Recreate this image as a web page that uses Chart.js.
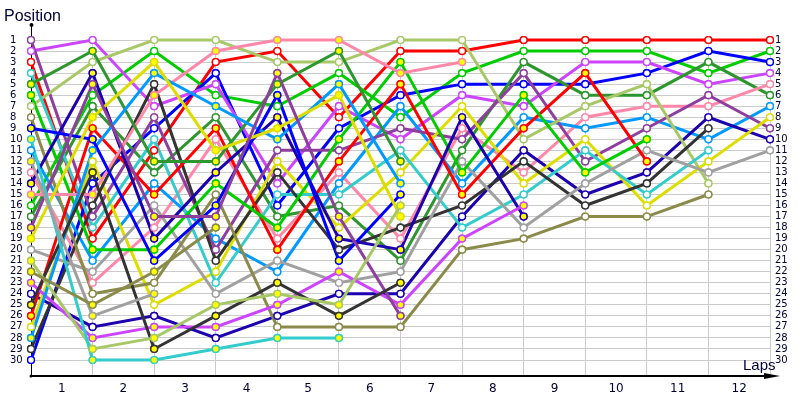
<!DOCTYPE html>
<html>
<head>
<meta charset="utf-8">
<script src="https://cdn.jsdelivr.net/npm/chart.js@4/dist/chart.umd.min.js"></script>
<style>body{margin:0;background:#fff}</style>
</head>
<body>
<canvas id="lapChart" width="800" height="400"></canvas>
<script>
// lap 0 = grid, then laps 1..12
const laps = [0, 1, 2, 3, 4, 5, 6, 7, 8, 9, 10, 11, 12];
const lapLabels = ['1', '2', '3', '4', '5', '6', '7', '8', '9', '10', '11', '12'];
const positionTicks = Array.from({ length: 30 }, (_, i) => i + 1);

// position per lap, null once the car is out
const purW = [1, 17, 8, 20, 11, 11, 9, 10, 4, 12, 9, 6, 9];
const vioW = [2, 1, 7, 5, 14, 7, 10, 6, 7, 3, 3, 5, 4];
const redW = [3, 19, 11, 3, 2, 8, 2, 2, 1, 1, 1, 1, 1];
const cyaW = [4, 18, 10, 23, 15, 15, 11, 18, 15, 11, 15, 11, null];
const dgrY = [5, 2, 12, 12, 5, 2, 12, null, null, null, null, null, null];
const grnY = [6, 20, 20, 14, 18, 10, 3, 13, 6, 13, 10, null, null];
const lgrW = [7, 3, 1, 1, 3, 3, 1, 1, 10, 7, 5, 14, null];
const oliW = [8, 24, 23, 15, 27, 27, 27, 20, 19, 17, 17, 15, null];
const bluY = [9, 10, 21, 16, 6, 21, 15, null, null, null, null, null, null];
const cyaY = [10, 30, 30, 29, 28, 28, null, null, null, null, null, null, null];
const lbuW = [11, 21, 14, 19, 22, 14, 7, 14, 8, 9, 8, 10, 7];
const gryY = [12, 26, 24, null, null, null, null, null, null, null, null, null, null];
const pnkW = [13, 23, 18, 10, 19, 13, 19, 9, 13, 8, 7, 7, 5];
const dbuY = [14, 4, 19, 13, 8, 19, 20, 8, 17, null, null, null, null];
const pnkY = [15, 15, 6, 2, 1, 1, 4, 3, null, null, null, null, null];
const grnW = [16, 6, 2, 6, 7, 4, 8, 4, 2, 2, 2, 4, 2];
const dgrW = [17, 7, 13, 8, 17, 16, 21, 11, 3, 6, 6, 3, 6];
const purY = [18, 5, 17, 17, 4, 17, 26, null, null, null, null, null, null];
const yelY = [19, 8, 3, 11, 9, 6, 17, null, null, null, null, null, null];
const gryW = [20, 22, 16, 24, 21, 23, 22, 12, 18, 14, 11, 13, 11];
const lgrY = [21, 29, 28, 25, 24, 25, 16, null, null, null, null, null, null];
const oliY = [22, 25, 22, 18, null, null, null, null, null, null, null, null, null];
const vioY = [23, 28, 27, 27, 25, 22, 25, 19, 16, null, null, null, null];
const dbuW = [24, 27, 26, 28, 26, 24, 24, 17, 11, 15, 13, 8, 10];
const dkgY = [25, 13, 29, 26, 23, 26, 23, null, null, null, null, null, null];
const redY = [26, 9, 15, 9, 20, 12, 5, 15, 9, 4, 12, null, null];
const yelW = [27, 12, 25, 22, 12, 18, 13, 7, 14, 10, 16, 12, 8];
const lbuY = [28, 11, 4, 7, 10, 5, 14, null, null, null, null, null, null];
const dkgW = [29, 16, 5, 21, 13, 20, 18, 16, 12, 16, 14, 9, null];
const bluW = [30, 14, 9, 4, 16, 9, 6, 5, 5, 5, 4, 2, 3];

const TEAM = {
    purple: '#8E3F9E', violet: '#CC44FF', red: '#FF0000', cyan: '#33CCCC',
    darkGreen: '#2E962E', green: '#00CC00', lightGreen: '#A8C868', olive: '#8A8A4A',
    blue: '#0000FF', lightBlue: '#0099FF', gray: '#A0A0A0', pink: '#FF88AA',
    darkBlue: '#1C00B0', yellow: '#DDDD00', darkGray: '#333333'
};

const cars = [
    { name: 'oliY', data: oliY, color: TEAM.olive, second: true },
    { name: 'gryY', data: gryY, color: TEAM.gray, second: true },
    { name: 'cyaY', data: cyaY, color: TEAM.cyan, second: true },
    { name: 'lgrY', data: lgrY, color: TEAM.lightGreen, second: true },
    { name: 'dkgY', data: dkgY, color: TEAM.darkGray, second: true },
    { name: 'purY', data: purY, color: TEAM.purple, second: true },
    { name: 'yelY', data: yelY, color: TEAM.yellow, second: true },
    { name: 'bluY', data: bluY, color: TEAM.blue, second: true },
    { name: 'lbuY', data: lbuY, color: TEAM.lightBlue, second: true },
    { name: 'dgrY', data: dgrY, color: TEAM.darkGreen, second: true },
    { name: 'pnkY', data: pnkY, color: TEAM.pink, second: true },
    { name: 'vioY', data: vioY, color: TEAM.violet, second: true },
    { name: 'dbuY', data: dbuY, color: TEAM.darkBlue, second: true },
    { name: 'grnY', data: grnY, color: TEAM.green, second: true },
    { name: 'redY', data: redY, color: TEAM.red, second: true },
    { name: 'oliW', data: oliW, color: TEAM.olive, second: false },
    { name: 'gryW', data: gryW, color: TEAM.gray, second: false },
    { name: 'dkgW', data: dkgW, color: TEAM.darkGray, second: false },
    { name: 'cyaW', data: cyaW, color: TEAM.cyan, second: false },
    { name: 'yelW', data: yelW, color: TEAM.yellow, second: false },
    { name: 'lgrW', data: lgrW, color: TEAM.lightGreen, second: false },
    { name: 'dbuW', data: dbuW, color: TEAM.darkBlue, second: false },
    { name: 'purW', data: purW, color: TEAM.purple, second: false },
    { name: 'lbuW', data: lbuW, color: TEAM.lightBlue, second: false },
    { name: 'pnkW', data: pnkW, color: TEAM.pink, second: false },
    { name: 'dgrW', data: dgrW, color: TEAM.darkGreen, second: false },
    { name: 'vioW', data: vioW, color: TEAM.violet, second: false },
    { name: 'bluW', data: bluW, color: TEAM.blue, second: false },
    { name: 'grnW', data: grnW, color: TEAM.green, second: false },
    { name: 'redW', data: redW, color: TEAM.red, second: false }
];

const TEXT = '#000033';
const GRID = '#CCCCCC';
const AXIS_TOP = 24;

// markers sit above every line, as in the original
const pointsOnTop = {
    id: 'pointsOnTop',
    afterDatasetsDraw(chart) {
        chart.data.datasets.forEach((ds, i) => {
            chart.getDatasetMeta(i).data.forEach(pt => pt.draw(chart.ctx));
        });
    }
};

const axisDecor = {
    id: 'axisDecor',
    beforeDatasetsDraw(chart) {
        const { ctx, chartArea: a } = chart;
        ctx.save();
        ctx.strokeStyle = '#000';
        ctx.fillStyle = '#000';
        ctx.lineWidth = 1;
        ctx.beginPath();
        ctx.moveTo(a.left + 0.5, AXIS_TOP + 1);
        ctx.lineTo(a.left + 0.5, a.bottom);
        ctx.stroke();
        ctx.beginPath();
        ctx.arc(a.left + 0.5, AXIS_TOP + 1, 2, 0, Math.PI * 2);
        ctx.fill();
        ctx.lineWidth = 2;
        ctx.beginPath();
        ctx.moveTo(a.left, a.bottom);
        ctx.lineTo(a.right - 4, a.bottom);
        ctx.stroke();
        ctx.beginPath();
        ctx.moveTo(a.right + 10, a.bottom);
        ctx.lineTo(a.right - 6, a.bottom - 3);
        ctx.lineTo(a.right - 6, a.bottom + 3);
        ctx.closePath();
        ctx.fill();
        ctx.beginPath();
        ctx.arc(a.left, a.bottom, 1.5, 0, Math.PI * 2);
        ctx.fill();
        ctx.restore();
    },
    afterDraw(chart) {
        const ctx = chart.ctx;
        ctx.save();
        ctx.fillStyle = TEXT;
        ctx.textBaseline = 'alphabetic';
        ctx.font = '16px "Liberation Sans"';
        ctx.fillText('Position', 4, 21);
        ctx.font = '15px "Liberation Sans"';
        ctx.fillText('Laps', 743, 370);
        ctx.restore();
    }
};

const tickFont = { family: 'DejaVu Sans', size: 10 };

new Chart(document.getElementById('lapChart').getContext('2d'), {
    type: 'line',
    data: {
        datasets: cars.map(c => ({
            label: c.name,
            data: c.data.map((p, i) => ({ x: laps[i], y: p })).filter(p => p.y !== null),
            borderColor: c.color,
            backgroundColor: c.color,
            borderWidth: 3,
            pointRadius: 3.4,
            pointBorderWidth: 1.4,
            pointBorderColor: c.color,
            pointBackgroundColor: c.second ? '#FFFF00' : '#FFFFFF',
            tension: 0,
            clip: false
        }))
    },
    options: {
        responsive: false,
        animation: false,
        layout: { padding: { left: 10, right: 0, top: 40, bottom: 0 } },
        plugins: { legend: { display: false }, tooltip: { enabled: false } },
        scales: {
            x: {
                type: 'linear', position: 'bottom', min: 0, max: 12,
                afterBuildTicks: s => { s.ticks = laps.map(v => ({ value: v })); },
                afterFit: s => { s.height = 0; },
                grid: { color: GRID, drawTicks: false },
                border: { display: false },
                ticks: { display: false }
            },
            x2: {
                type: 'linear', position: 'bottom', min: 0, max: 12,
                afterBuildTicks: s => { s.ticks = lapLabels.map((_, i) => ({ value: i + 0.5 })); },
                afterFit: s => { s.height = 24; },
                grid: { display: false, drawTicks: false },
                border: { display: false },
                ticks: {
                    autoSkip: false, maxRotation: 0,
                    padding: 6, color: TEXT, font: { family: 'DejaVu Sans', size: 12 },
                    callback: v => lapLabels[Math.floor(v)]
                }
            },
            y: {
                type: 'linear', position: 'left', reverse: true, min: 1, max: 31.45,
                afterBuildTicks: s => { s.ticks = positionTicks.map(v => ({ value: v })); },
                afterFit: s => { s.width = 21; },
                grid: { color: GRID, drawTicks: false },
                border: { display: false },
                ticks: { autoSkip: false, crossAlign: 'far', color: TEXT, font: tickFont }
            },
            y2: {
                type: 'linear', position: 'right', reverse: true, min: 1, max: 31.45,
                afterBuildTicks: s => { s.ticks = positionTicks.map(v => ({ value: v })); },
                afterFit: s => { s.width = 30; },
                grid: { display: false, drawTicks: false },
                border: { display: false },
                ticks: { autoSkip: false, padding: 5, color: TEXT, font: tickFont }
            }
        }
    },
    plugins: [axisDecor, pointsOnTop]
});
</script>
</body>
</html>
